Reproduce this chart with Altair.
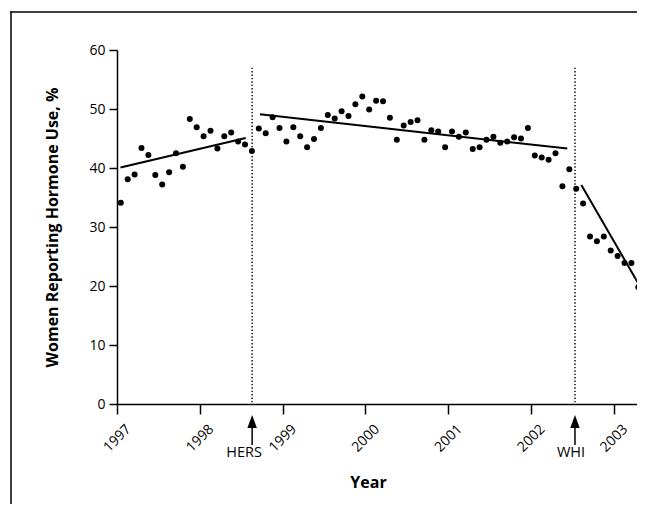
import altair as alt
import pandas as pd

# Monthly share of women reporting hormone use, Jan 1997 onward (%)
values = [34.1, 38.1, 38.9, 43.4, 42.2, 38.8, 37.2, 39.3, 42.5, 40.2, 48.3, 46.9,
          45.4, 46.3, 43.3, 45.4, 46.0, 44.5, 44.0, 42.9, 46.7, 45.9, 48.6, 46.8,
          44.5, 46.9, 45.4, 43.5, 44.9, 46.8, 49.0, 48.4, 49.6, 48.8, 50.8, 52.1,
          49.9, 51.4, 51.3, 48.5, 44.8, 47.2, 47.8, 48.1, 44.8, 46.4, 46.2, 43.5,
          46.2, 45.3, 46.0, 43.2, 43.5, 44.8, 45.3, 44.3, 44.5, 45.2, 45.0, 46.8,
          42.1, 41.8, 41.4, 42.5, 36.9, 39.8, 36.5, 34.0, 28.4, 27.6, 28.4, 26.0,
          25.1, 23.9, 23.9, 19.8, 18.2]
month_index = list(range(len(values)))
times = [1997 + (m + 0.55) / 12 for m in month_index]

# Fitted trend segments
seg_id = ["a", "a", "b", "b", "c", "c"]
seg_t = [1997.042, 1998.554, 1998.727, 2002.438, 2002.608, 2003.45]
seg_v = [40.1, 45.1, 49.1, 43.3, 37.1, 16.7]

# Events
event_names = ["HERS", "WHI"]
event_t = [1998.632, 2002.531]
event_top = [57, 57]

year_ticks = [1997, 1998, 1999, 2000, 2001, 2002, 2003]
y_ticks = [0, 10, 20, 30, 40, 50, 60]

FONT = "Open Sans"

pts = pd.DataFrame({"t": times, "v": values})
segs = pd.DataFrame({"seg": seg_id, "t": seg_t, "v": seg_v})
events = pd.DataFrame({"name": event_names, "t": event_t, "top": event_top})

xscale = alt.Scale(domain=[1997, 2003.28], nice=False, zero=False)
yscale = alt.Scale(domain=[0, 60], nice=False)

one = pd.DataFrame({"k": [0]})
frame_top = alt.Chart(one).mark_rule(color="black", strokeWidth=1.5).encode(
    x=alt.value(-106.75), x2=alt.value(560), y=alt.value(-38))
frame_left = alt.Chart(one).mark_rule(color="black", strokeWidth=1.5).encode(
    x=alt.value(-106), y=alt.value(-38.75), y2=alt.value(500))

points = alt.Chart(pts).mark_circle(size=36, color="black", opacity=1, clip=True).encode(
    x=alt.X("t:Q", scale=xscale, title="Year",
            axis=alt.Axis(values=year_ticks, format="d", labelAngle=-45,
                          labelAlign="center", labelBaseline="middle",
                          tickSize=10, labelPadding=24, labelFontSize=14,
                          titleX=251, titleY=78, titleAlign="center",
                          titleBaseline="middle", titleFontSize=16,
                          titleFontWeight="bold", labelFlush=False,
                          labelOverlap=False)),
    y=alt.Y("v:Q", scale=yscale, title="Women Reporting Hormone Use, %",
            axis=alt.Axis(values=y_ticks, tickSize=8, labelPadding=4,
                          labelFontSize=14, titleX=-65, titleBaseline="middle",
                          titleFontSize=16, titleFontWeight="bold")),
)

lines = alt.Chart(segs).mark_line(color="black", strokeWidth=2, clip=True).encode(
    x=alt.X("t:Q", scale=xscale), y=alt.Y("v:Q", scale=yscale), detail="seg:N"
)

rules = alt.Chart(events).mark_rule(color="black", strokeWidth=1.4, strokeDash=[1.4, 2]).encode(
    x=alt.X("t:Q", scale=xscale), y=alt.Y("top:Q", scale=yscale), y2=alt.datum(0)
)

shafts = alt.Chart(events).mark_rule(color="black", strokeWidth=1.5).encode(
    x=alt.X("t:Q", scale=xscale), y=alt.value(372), y2=alt.value(395)
)

heads = alt.Chart(events).mark_point(
    shape="M0,-1L0.73,1L-0.73,1Z", size=169, filled=True, color="black", opacity=1
).encode(x=alt.X("t:Q", scale=xscale), y=alt.value(371.5))

hers_text = alt.Chart(events[events.name == "HERS"]).mark_text(
    font=FONT, fontSize=14.5, color="black", baseline="alphabetic", align="center", dx=-8
).encode(x=alt.X("t:Q", scale=xscale), y=alt.value(406.5), text="name:N")

whi_text = alt.Chart(events[events.name == "WHI"]).mark_text(
    font=FONT, fontSize=14.5, color="black", baseline="alphabetic", align="center", dx=-4
).encode(x=alt.X("t:Q", scale=xscale), y=alt.value(406.5), text="name:N")

chart = alt.layer(frame_top, frame_left, rules, lines, points, shafts, heads,
                  hers_text, whi_text).properties(
    width=520, height=354,
    padding={"left": 109, "top": 42, "right": 0, "bottom": 100},
    autosize=alt.AutoSizeParams(type="none"),
).configure_view(stroke=None).configure_axis(
    grid=False, domainColor="black", tickColor="black", labelColor="black",
    titleColor="black", domainWidth=1.5, tickWidth=1.5,
    labelFont=FONT, titleFont=FONT,
)

chart.save("out.html", embed_options={"renderer": "svg", "actions": False})
